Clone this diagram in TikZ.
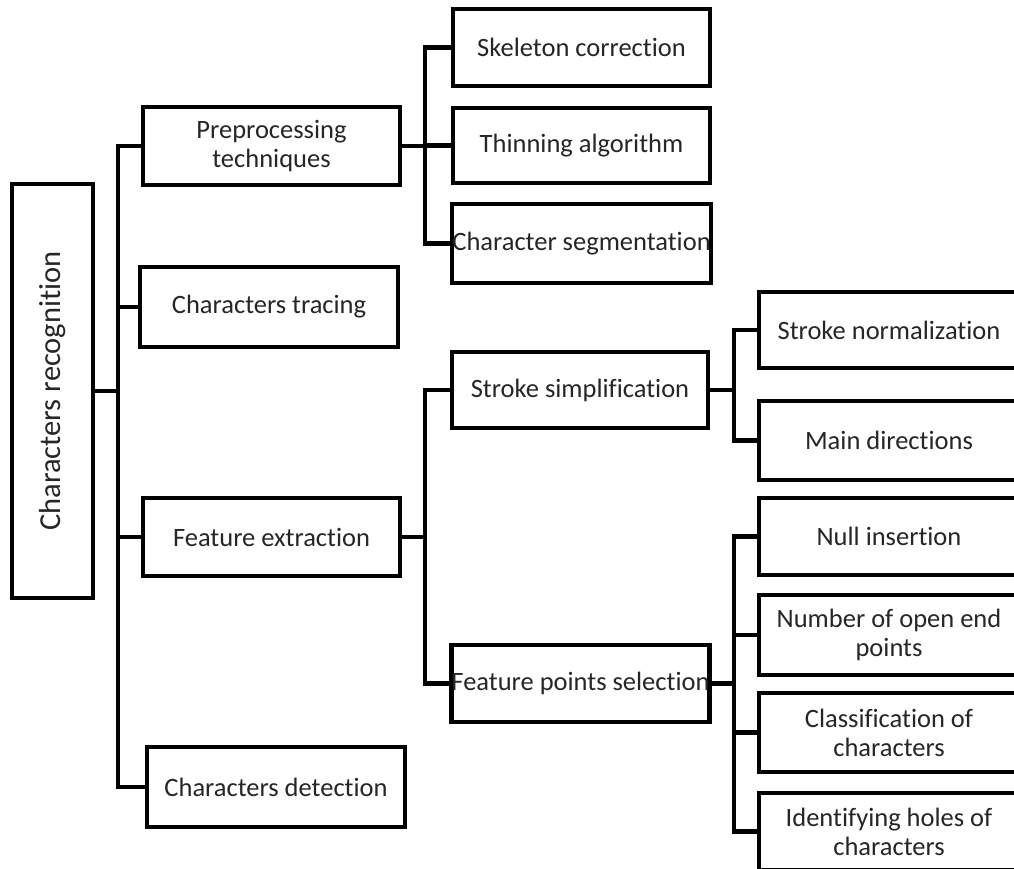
\documentclass[tikz,border=0pt]{standalone}
\usepackage{fontspec}
\usepackage{graphicx}
\setmainfont[Ligatures={NoCommon}]{Carlito}
\begin{document}
\begin{tikzpicture}[x=1pt,y=-1pt,
  box/.style={draw=black, line width=4.2pt, fill=white, inner sep=0pt,
    align=center, font=\fontsize{26.5}{29}\selectfont, text=black!85},
  link/.style={draw=black, line width=4.2pt, line cap=rect}]
\useasboundingbox (0,0) rectangle (1014,868);
\clip (0,0) rectangle (1014,868);
\fill[white] (0,0) rectangle (1014,868);

% trunk positions
\coordinate (t1) at (118,0);
\coordinate (t2) at (425,0);
\coordinate (t3) at (734,0);

% root
\node[box, minimum width=81pt, minimum height=414pt] (root) at (52.5,391)
  {\rotatebox{90}{\fontsize{30.5}{32}\selectfont Characters recognition}};

% first level
\node[box, minimum width=257pt, minimum height=78pt] (pre) at (271.5,146) {Preprocessing\\techniques};
\node[box, minimum width=258pt, minimum height=80pt] (trace) at (269,307) {Characters tracing};
\node[box, minimum width=257pt, minimum height=78pt] (fext) at (271.5,537) {Feature extraction};
\node[box, minimum width=258pt, minimum height=80pt] (det) at (276,787) {Characters detection};

% second level
\node[box, minimum width=257pt, minimum height=77pt] (skel) at (581.5,47.5) {Skeleton correction};
\node[box, minimum width=257pt, minimum height=75pt] (thin) at (581.5,145.5) {Thinning algorithm};
\node[box, minimum width=257pt, minimum height=79pt] (seg) at (581.5,243.5) {Character segmentation};
\node[box, minimum width=256pt, minimum height=76pt] (ssimp) at (580,390) {Stroke simplification};
\node[box, minimum width=257pt, minimum height=77pt] (fps) at (580.5,683.5) {Feature points selection};

% third level
\node[box, minimum width=260pt, minimum height=76pt] (snorm) at (889,330) {Stroke normalization};
\node[box, minimum width=260pt, minimum height=79pt] (mdir) at (889,440.5) {Main directions};
\node[box, minimum width=260pt, minimum height=77pt] (null) at (889,536.5) {Null insertion};
\node[box, minimum width=260pt, minimum height=80pt] (num) at (889,635) {Number of open end\\points};
\node[box, minimum width=260pt, minimum height=79pt] (cls) at (889,732.5) {Classification of\\characters};
\node[box, minimum width=260pt, minimum height=77pt] (holes) at (889,831.5) {Identifying holes of\\characters};

% connectors: root to first level
\draw[link] (root.east) -- (root.east -| t1);
\draw[link] (pre.west -| t1) -- (det.west -| t1);
\foreach \n in {pre,trace,fext,det} \draw[link] (\n.west -| t1) -- (\n.west);

% preprocessing to its techniques
\draw[link] (pre.east) -- (pre.east -| t2);
\draw[link] (skel.west -| t2) -- (seg.west -| t2);
\foreach \n in {skel,thin,seg} \draw[link] (\n.west -| t2) -- (\n.west);

% feature extraction to its steps
\draw[link] (fext.east) -- (fext.east -| t2);
\draw[link] (ssimp.west -| t2) -- (fps.west -| t2);
\foreach \n in {ssimp,fps} \draw[link] (\n.west -| t2) -- (\n.west);

% stroke simplification
\draw[link] (ssimp.east) -- (ssimp.east -| t3);
\draw[link] (snorm.west -| t3) -- (mdir.west -| t3);
\foreach \n in {snorm,mdir} \draw[link] (\n.west -| t3) -- (\n.west);

% feature points selection
\draw[link] (fps.east) -- (fps.east -| t3);
\draw[link] (null.west -| t3) -- (holes.west -| t3);
\foreach \n in {null,num,cls,holes} \draw[link] (\n.west -| t3) -- (\n.west);
\end{tikzpicture}
\end{document}
